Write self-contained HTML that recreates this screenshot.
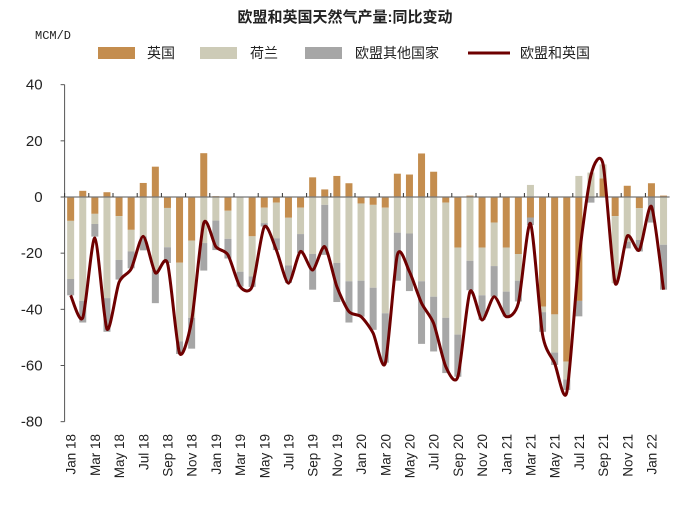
<!DOCTYPE html>
<html><head><meta charset="utf-8"><style>
body{margin:0;background:#fff;}
svg text{font-family:"Liberation Sans","Noto Sans CJK SC",sans-serif;}
</style></head><body>
<svg id="chart" width="690" height="502" viewBox="0 0 690 502">
<text x="345" y="22" text-anchor="middle" font-size="15" font-weight="bold" fill="#222">欧盟和英国天然气产量:同比变动</text>
<text x="35" y="39" font-size="12" fill="#222" style="font-family:'Liberation Mono',monospace">MCM/D</text>
<g>
<rect x="98" y="47" width="37" height="12" fill="#c48d4e"/>
<text x="147" y="58" font-size="14" fill="#222">英国</text>
<rect x="200" y="47" width="37" height="12" fill="#cdcbb7"/>
<text x="250" y="58" font-size="14" fill="#222">荷兰</text>
<rect x="305" y="47" width="37" height="12" fill="#a6a6a6"/>
<text x="355" y="58" font-size="14" fill="#222">欧盟其他国家</text>
<line x1="468" y1="53" x2="510" y2="53" stroke="#6e0000" stroke-width="3"/>
<text x="520" y="58" font-size="14" fill="#222">欧盟和英国</text>
</g>
<g id="plot"></g>
</svg>
<script>
const months=["Jan 18","Feb 18","Mar 18","Apr 18","May 18","Jun 18","Jul 18","Aug 18","Sep 18","Oct 18","Nov 18","Dec 18","Jan 19","Feb 19","Mar 19","Apr 19","May 19","Jun 19","Jul 19","Aug 19","Sep 19","Oct 19","Nov 19","Dec 19","Jan 20","Feb 20","Mar 20","Apr 20","May 20","Jun 20","Jul 20","Aug 20","Sep 20","Oct 20","Nov 20","Dec 20","Jan 21","Feb 21","Mar 21","Apr 21","May 21","Jun 21","Jul 21","Aug 21","Sep 21","Oct 21","Nov 21","Dec 21","Jan 22","Feb 22"];
const ukValues=[-8.5,2.2,-6,1.7,-6.8,-11.7,5,10.8,-3.9,-23.4,-15.5,15.6,0.3,-4.9,0,-14,-3.8,-2,-7.4,-3.8,7,2.7,7.5,4.9,-2.3,-2.8,-3.8,8.3,8,15.5,9,-2,-18,0.5,-18,-9.1,-18,-20.3,-7.3,-39,-41.8,-58.6,-37,0,6.6,-6.8,4,-4,4.9,0.5];
const nlValues=[-20.7,-37,-3.6,-36,-15.6,-7.7,-14,-26,-14,-28,-27.5,-16.4,-8.4,-10,-26.6,-14.3,-5.5,-12.7,-17,-9.4,-20.3,-2.8,-23.5,-30,-27.5,-29.5,-37.6,-12.7,-13,-30,-35.5,-41,-31,-22.7,-17,-15.5,-15.7,-9.5,4.3,-2,-13.6,-6.4,7.5,8.7,5,-23.9,-15.9,-11.3,0,-17];
const otherValues=[-5.8,-7.7,-4.5,-12,-7,-6,-5,-11.8,-5.6,-4.5,-11,-9.8,-10.5,-7,-5.3,-3.7,-1.2,-4.2,-6.2,-6.8,-12.7,-17.8,-13.9,-14.7,-12.8,-15,-17.6,-17.1,-20.5,-22.3,-19.5,-19.7,-15,-10.5,-8.8,-10.9,-8.9,-7.4,-2.7,-7,-4.4,-3.7,-5.5,-2,0,0,-2.4,-4.1,-9.1,-16];
const totalValues=[-35,-43,-14.6,-47,-30.4,-25.6,-14,-27,-23.5,-55.6,-44,-9.3,-17.7,-20.6,-31.9,-31.9,-10.6,-18.9,-30.7,-19.4,-26,-17.7,-31.9,-40.8,-42.6,-48.5,-59.2,-20.6,-26.6,-37.8,-45,-60.4,-64,-33.7,-43.8,-35.5,-42.6,-37.8,-9.4,-49,-59.2,-69.6,-22.4,7.8,11.7,-30.7,-13.9,-18.9,-3.4,-33];
const yTicks=[40,20,0,-20,-40,-60,-80];

const NS="http://www.w3.org/2000/svg";
const plot=document.getElementById('plot');
const X0=64.6,STEP=12.1,BW=7;
const yS=v=>197-v*2.8083;
const xC=i=>X0+STEP*(i+0.5);
function mk(tag,attrs){const e=document.createElementNS(NS,tag);for(const k in attrs)e.setAttribute(k,attrs[k]);plot.appendChild(e);return e;}

const series=[[ukValues,'#c48d4e','bar-uk'],[nlValues,'#cdcbb7','bar-nl'],[otherValues,'#a6a6a6','bar-other']];
months.forEach((m,i)=>{
  let pos=0,neg=0;
  series.forEach(([arr,col,name])=>{
    const v=arr[i];let a,b;
    if(v>=0){a=pos;b=pos+v;pos=b;}else{a=neg;b=neg+v;neg=b;}
    const y1=yS(Math.max(a,b)),y2=yS(Math.min(a,b));
    const r=mk('rect',{x:xC(i)-BW/2,y:y1,width:BW,height:Math.max(0,y2-y1),fill:col});
    
    
  });
});

const ya=mk('line',{x1:X0,y1:yS(40),x2:X0,y2:yS(-80),stroke:'#555','stroke-width':1});


yTicks.forEach(t=>{
  const tk=mk('line',{x1:X0-4,y1:yS(t),x2:X0,y2:yS(t),stroke:'#555'});
  
  
  const tx=mk('text',{x:X0-22,y:yS(t)+5,'text-anchor':'end','font-size':15,fill:'#222'});
  tx.textContent=t;
  
  
});
const xa=mk('line',{x1:X0,y1:yS(0),x2:X0+STEP*months.length,y2:yS(0),stroke:'#777','stroke-width':1.2});


months.forEach((m,i)=>{
  if(i%2===0){
    const tk=mk('line',{x1:X0+STEP*i,y1:yS(0)-4,x2:X0+STEP*i,y2:yS(0),stroke:'#333'});
    
    
    const tx=mk('text',{x:0,y:0,'text-anchor':'end','font-size':13.5,fill:'#222',transform:`translate(${xC(i)+5},434) rotate(-90)`});
    tx.textContent=m;
    
    
  }
});

const pts=totalValues.map((v,i)=>[xC(i),yS(v)]);
let d=`M${pts[0][0]},${pts[0][1]}`;
const K=8;
for(let i=0;i<pts.length-1;i++){
  const p0=pts[Math.max(0,i-1)],p1=pts[i],p2=pts[i+1],p3=pts[Math.min(pts.length-1,i+2)];
  const c1=[p1[0]+(p2[0]-p0[0])/K,p1[1]+(p2[1]-p0[1])/K];
  const c2=[p2[0]-(p3[0]-p1[0])/K,p2[1]-(p3[1]-p1[1])/K];
  d+=` C${c1[0]},${c1[1]} ${c2[0]},${c2[1]} ${p2[0]},${p2[1]}`;
}
const ln=mk('path',{d:d,fill:'none',stroke:'#6e0000','stroke-width':3,'stroke-linejoin':'round'});


</script>
</body></html>
